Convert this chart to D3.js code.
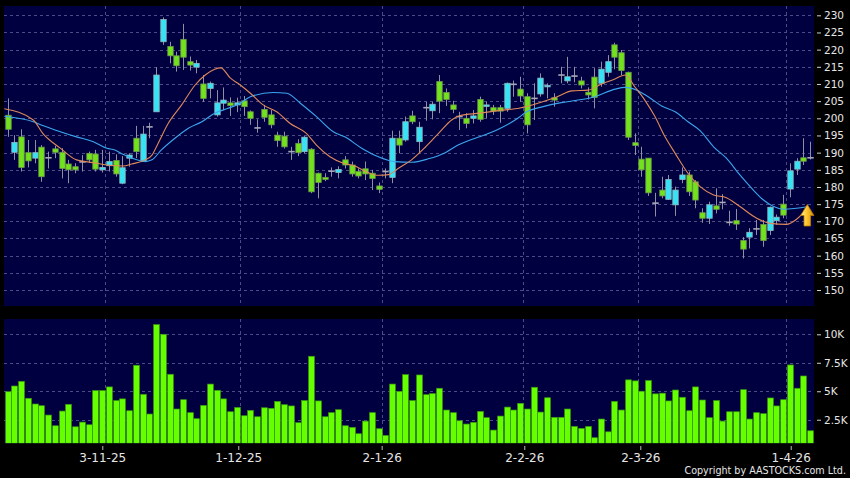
<!DOCTYPE html>
<html><head><meta charset="utf-8">
<script src="https://cdn.jsdelivr.net/npm/d3@7/dist/d3.min.js"></script>
<style>html,body{margin:0;padding:0;background:#000;}svg{display:block}</style>
</head><body>
<svg id="chart" width="850" height="478"></svg>
<script>
// ---------- DATA ----------
const opens = [200.9,190.1,194.6,190.0,188.4,191.6,188.5,191.1,190.1,186.7,185.9,187.3,189.8,189.6,185.0,186.2,187.7,181.1,188.4,194.2,
187.4,197.5,201.9,222.3,220.9,218.2,223.0,216.5,214.9,210.0,208.7,201.0,204.4,204.5,203.9,205.1,201.9,197.2,202.6,201.0,
195.1,194.8,190.3,192.7,190.3,191.0,184.0,182.8,184.6,184.2,187.9,186.4,184.5,185.3,184.0,180.3,184.5,182.8,194.2,193.7,
200.7,193.2,203.1,202.2,210.7,207.5,203.9,200.5,200.0,200.0,205.5,203.5,203.1,203.1,202.9,209.9,208.5,206.3,205.8,207.1,
209.2,206.0,212.6,210.9,212.3,210.9,207.6,212.0,210.2,213.4,221.4,219.1,213.4,192.9,188.1,188.4,175.3,179.1,176.4,174.8,
182.2,183.5,181.5,172.5,170.9,174.5,175.5,169.7,170.2,164.4,165.4,167.8,169.1,167.3,170.2,175.0,179.4,185.2,188.5,188.5];
const highs = [205.8,195.1,196.8,193.7,193.7,192.2,190.3,192.0,191.3,187.9,186.9,189.3,190.3,190.8,190.8,190.3,189.5,189.0,189.8,197.8,
197.8,198.7,214.9,229.4,222.3,219.4,227.5,218.0,217.0,212.6,210.7,208.2,209.0,206.1,206.0,206.5,202.3,199.7,203.9,202.4,
196.1,196.1,191.7,193.9,194.8,191.3,184.2,184.0,185.7,186.0,189.0,187.4,185.4,187.4,185.0,181.3,185.4,196.4,196.4,200.5,
202.2,199.0,204.8,204.8,212.6,208.7,205.1,201.9,201.5,202.4,206.3,204.8,203.9,203.9,210.4,211.0,212.1,207.3,210.2,213.1,
210.2,207.3,215.0,217.9,215.0,212.1,209.0,214.6,216.5,218.4,222.0,219.9,213.6,195.6,191.7,188.4,178.3,183.0,183.5,180.1,
185.7,184.5,182.0,173.8,175.7,179.6,177.9,173.1,173.6,165.4,168.0,170.4,170.4,174.3,172.0,177.7,186.9,188.4,194.2,193.2];
const lows = [194.6,187.9,184.5,185.7,186.9,181.5,185.4,188.4,182.5,181.1,184.0,184.5,187.1,184.5,184.2,184.5,183.0,180.8,185.9,188.4,
187.4,194.2,201.9,221.4,216.0,213.6,214.1,213.9,213.1,204.8,205.8,200.5,202.4,200.7,201.8,200.7,198.1,195.8,199.0,197.1,
191.7,191.2,187.9,189.0,189.8,178.2,176.7,181.7,183.0,182.5,185.4,183.0,182.5,182.0,179.1,178.2,182.5,181.1,189.8,193.2,
198.3,189.8,199.3,199.7,201.5,203.6,201.5,196.6,197.1,198.5,199.0,200.0,201.0,198.7,201.9,206.3,204.8,195.6,199.5,206.3,
205.8,203.4,210.2,210.2,210.5,208.7,205.5,202.9,209.2,212.1,214.3,212.6,193.7,189.3,183.0,177.4,171.4,176.7,176.2,171.6,
181.1,177.4,173.8,169.6,169.2,172.3,173.5,168.7,167.5,159.2,162.1,166.0,162.6,166.0,169.0,170.9,177.0,183.5,186.4,188.0];
const closes = [196.8,193.0,185.7,187.6,190.0,183.0,188.5,190.1,185.4,185.0,185.0,187.3,187.9,185.2,185.7,187.4,183.8,185.6,189.3,190.3,
195.4,197.5,212.6,228.8,218.2,215.3,217.8,215.5,216.0,205.8,210.2,204.5,205.3,203.7,204.5,203.4,200.0,197.2,200.3,198.1,
193.5,191.7,190.3,190.0,194.5,178.6,181.3,182.2,184.6,185.1,186.4,183.8,183.2,183.8,182.5,179.3,184.5,194.2,192.2,199.0,
199.0,197.4,203.1,204.1,205.0,205.5,202.6,200.5,198.5,200.7,199.7,203.9,202.1,202.1,210.2,209.9,206.5,198.1,205.8,211.7,
209.6,205.3,212.6,212.1,212.3,209.7,206.8,206.1,214.3,216.5,217.8,213.9,194.5,192.1,185.0,178.3,175.3,177.4,182.2,179.1,
183.5,178.6,176.2,170.9,174.8,173.5,175.5,169.7,169.2,161.9,166.8,167.8,164.4,174.1,171.2,171.8,184.7,187.5,187.5,188.5];
// volume in thousands of shares
const volumes = [4.96,5.46,5.87,4.38,3.88,3.73,2.91,1.97,3.26,3.85,1.88,2.29,2.06,5.06,5.06,5.38,4.18,4.33,3.29,7.28,
4.73,3.00,10.85,10.0,6.49,3.44,4.26,3.12,2.59,3.76,5.63,5.08,4.33,3.20,3.58,2.85,3.32,2.76,3.55,3.50,
4.11,3.82,3.71,2.24,4.18,8.07,4.15,2.76,3.12,3.38,1.97,1.83,1.27,2.38,3.12,1.71,1.12,5.63,4.99,6.46,
4.18,6.43,4.70,4.79,5.26,3.35,3.12,2.41,2.12,2.27,3.23,2.68,1.59,2.82,3.61,3.35,3.94,3.44,5.35,3.17,
4.43,2.71,2.71,3.44,1.91,1.74,1.91,0.92,2.56,1.44,4.11,3.35,6.00,5.91,5.00,5.94,4.77,4.83,4.15,5.11,
4.47,3.29,5.38,4.23,2.68,4.18,2.38,3.20,3.20,5.14,2.56,3.12,3.03,4.41,3.71,4.26,7.31,5.26,6.34,1.53];
// moving averages: [candle index, price]
const ma10 = [[-0.5,202.8],[3.8,199.5],[5.2,195.6],[7.8,191.3],[10.2,187.9],[12.7,187.1],[14.7,186.4],[17.1,186.1],[18.4,186.7],[20.4,187.9],
[21.4,189.3],[22.3,192.7],[23.8,198.5],[25.8,203.9],[27.8,209.7],[29.3,212.6],[30.7,214.3],[31.6,214.7],[33,211.8],[34.5,209.7],
[36,207.3],[37.9,203.9],[39.9,201.9],[41.9,198.5],[44.3,195.6],[45.8,192.2],[47.8,188.8],[49.8,186.9],[51.5,186.1],[53,184.6],
[55,183.4],[56.5,183.6],[57.9,185.4],[59.9,187.9],[61.9,191.5],[63.9,195.6],[65.9,199.6],[67.1,200.8],[70,201.5],[73,202.3],
[76,203.0],[79,204.6],[81.4,206.2],[83.7,208.0],[86.1,208.2],[88.1,210.0],[89.8,211.2],[91.6,212.6],[93,209.2],[94.5,205.3],
[96,200.5],[97.5,194.6],[99,189.8],[100.9,184.0],[102.7,180.1],[104.7,177.7],[106.6,176.9],[108.6,174.3],[111.1,170.9],[113.1,169.4],
[115.5,169.1],[117,170.6],[118.8,174.3]];
const ma20 = [[-0.5,200.6],[3.8,199.0],[5.2,197.9],[7.8,196.1],[10.2,194.6],[12.7,193.2],[14.7,191.3],[15.9,190.8],[17.1,189.5],[18.4,188.4],
[20.4,187.4],[21.4,187.9],[22.8,190.8],[24.8,194.2],[26.8,197.1],[28.8,199.0],[30.7,201.5],[32.7,202.9],[34.5,204.4],[36,206.3],
[39.4,207.5],[41.4,207.3],[43.4,204.4],[45.8,200.5],[48.3,196.1],[50,194.6],[52.5,191.3],[55,188.8],[57.4,187.4],[59.9,187.2],
[62.4,188.2],[64.9,190.0],[66.8,192.2],[68.6,193.7],[70,194.6],[73,197.0],[75.5,199.8],[77,201.9],[79.4,203.4],[81.9,204.5],
[83.9,205.1],[87.1,206.3],[90.1,208.5],[91.6,209.0],[93.3,208.2],[95,206.3],[97,203.6],[99,201.9],[100.9,199.0],[102.7,196.4],
[104.7,191.7],[106.6,188.4],[108.6,183.5],[110.6,179.1],[112.1,176.2],[113.6,174.3],[115.1,173.5],[118.8,174.3]];
const priceTicks = [150,155,160,165,170,175,180,185,190,195,200,205,210,215,220,225,230];
const volTicks = [2.5,5,7.5,10];
const volTickLabels = ["2.5K","5K","7.5K","10K"];
const dateTickIdx = [14.03,34.2,55.47,76.62,93.83,116.14];
const dateGridIdx = [14.5,34.5,55.5,76.5,93.5,115.5];
const dateTickLabels = ["3-11-25","1-12-25","2-1-26","2-2-26","2-3-26","1-4-26"];

// ---------- LAYOUT ----------
const svg = d3.select("#chart");
const P = {x0:4, x1:814, y0:6, y1:306};      // price panel
const V = {x0:4, x1:814, y0:319, y1:443.3};  // volume panel
const N = closes.length;
const xs = d3.scaleLinear().domain([0, N-1]).range([7.7, 810]);
const ys = d3.scaleLinear().domain([150, 230]).range([290, 15.3]);
const yv = d3.scaleLinear().domain([0, 10]).range([448.2, 334.3]);
const bw = 5.4;
const navy = "#000040", gridC = "#4b4b86";
const font = "DejaVu Sans, Verdana, sans-serif";

svg.append("rect").attr("width",850).attr("height",478).attr("fill","#000");
svg.append("rect").attr("x",P.x0).attr("y",P.y0).attr("width",P.x1-P.x0).attr("height",P.y1-P.y0).attr("fill",navy);
svg.append("rect").attr("x",V.x0).attr("y",V.y0).attr("width",V.x1-V.x0).attr("height",V.y1-V.y0).attr("fill",navy);

const defs = svg.append("defs");
defs.append("clipPath").attr("id","cp").append("rect").attr("x",P.x0).attr("y",P.y0).attr("width",P.x1-P.x0).attr("height",P.y1-P.y0);
defs.append("clipPath").attr("id","cv").append("rect").attr("x",V.x0).attr("y",V.y0).attr("width",V.x1-V.x0).attr("height",V.y1-V.y0);
const grad = defs.append("linearGradient").attr("id","arrowG").attr("x1","0").attr("x2","1").attr("y1","0").attr("y2","0");
grad.append("stop").attr("offset","0").attr("stop-color","#fff0a0");
grad.append("stop").attr("offset","0.45").attr("stop-color","#ffc830");
grad.append("stop").attr("offset","1").attr("stop-color","#d88a00");

// grid - price
const gp = svg.append("g").attr("clip-path","url(#cp)");
gp.selectAll("line.h").data(priceTicks).enter().append("line")
  .attr("x1",P.x0).attr("x2",P.x1).attr("y1",d=>Math.round(ys(d))+0.5).attr("y2",d=>Math.round(ys(d))+0.5)
  .attr("stroke",gridC).attr("stroke-dasharray","3,3");
gp.selectAll("line.v").data(dateGridIdx).enter().append("line")
  .attr("x1",d=>Math.round(xs(d))+0.5).attr("x2",d=>Math.round(xs(d))+0.5).attr("y1",P.y0).attr("y2",P.y1)
  .attr("stroke",gridC).attr("stroke-dasharray","3,3");
// grid - volume
const gv = svg.append("g").attr("clip-path","url(#cv)");
gv.selectAll("line.h").data(volTicks).enter().append("line")
  .attr("x1",V.x0).attr("x2",V.x1).attr("y1",d=>Math.round(yv(d))+0.5).attr("y2",d=>Math.round(yv(d))+0.5)
  .attr("stroke",gridC).attr("stroke-dasharray","3,3");
gv.selectAll("line.v").data(dateGridIdx).enter().append("line")
  .attr("x1",d=>Math.round(xs(d))+0.5).attr("x2",d=>Math.round(xs(d))+0.5).attr("y1",V.y0).attr("y2",V.y1)
  .attr("stroke",gridC).attr("stroke-dasharray","3,3");

// candles
const cg = svg.append("g").attr("clip-path","url(#cp)");
const idx = d3.range(N);
cg.selectAll("line.w").data(idx).enter().append("line")
  .attr("x1",i=>Math.round(xs(i))+0.5).attr("x2",i=>Math.round(xs(i))+0.5)
  .attr("y1",i=>ys(highs[i])).attr("y2",i=>ys(lows[i]))
  .attr("stroke","#8f8f9f").attr("stroke-width",1);
idx.forEach(i=>{
  const o=opens[i], c=closes[i], cx=Math.round(xs(i))+0.5;
  if (o===c){
    cg.append("line").attr("x1",cx-bw/2-0.5).attr("x2",cx+bw/2+0.5).attr("y1",ys(o)).attr("y2",ys(o))
      .attr("stroke","#a8a8b8").attr("stroke-width",1.6);
  } else {
    const up = c>o;
    const top = ys(Math.max(o,c)), bot = ys(Math.min(o,c));
    cg.append("rect").attr("x",cx-bw/2).attr("y",top).attr("width",bw).attr("height",Math.max(1.5,bot-top))
      .attr("fill", up ? "#35e3f5" : "#72e21c")
      .attr("stroke", up ? "#8fb8c0" : "#6f9a4a").attr("stroke-width",0.8);
  }
});

// moving averages
const line = d3.line().x(d=>xs(d[0])).y(d=>ys(d[1])).curve(d3.curveMonotoneX);
cg.append("path").attr("d",line(ma20)).attr("fill","none").attr("stroke","#3aa6ee").attr("stroke-width",1.1);
cg.append("path").attr("d",line(ma10)).attr("fill","none").attr("stroke","#e0895a").attr("stroke-width",1.1);

// arrow marker at the end of the series
const ax = xs(N-1)-2.7, ay = ys(174.9);
svg.append("path")
  .attr("d",`M${ax},${ay} L${ax+6.6},${ay+11} L${ax+3.3},${ay+11} L${ax+3.3},${ay+21.5} L${ax-3.3},${ay+21.5} L${ax-3.3},${ay+11} L${ax-6.6},${ay+11} Z`)
  .attr("fill","url(#arrowG)").attr("stroke","#b87800").attr("stroke-width",0.8);

// volume bars
const vg = svg.append("g").attr("clip-path","url(#cv)");
vg.selectAll("rect").data(idx).enter().append("rect")
  .attr("x",i=>Math.round(xs(i))+0.5-2.85).attr("width",5.7)
  .attr("y",i=>yv(volumes[i])).attr("height",i=>V.y1-yv(volumes[i]))
  .attr("fill","#66ff00").attr("stroke","#3a9a10").attr("stroke-width",0.7);

// right axes
function styleAxis(g){
  g.select(".domain").remove();
  g.selectAll(".tick line").attr("stroke","#cfcfcf");
  g.selectAll(".tick text").attr("fill","#e6e6e6").attr("font-family",font).attr("font-size","10.5px");
}
svg.append("g").attr("transform","translate(817,0)")
  .call(d3.axisRight(ys).tickValues(priceTicks).tickSize(4).tickPadding(3).tickFormat(d3.format("d")))
  .call(styleAxis);
svg.append("g").attr("transform","translate(817,0)")
  .call(d3.axisRight(yv).tickValues(volTicks).tickSize(4).tickPadding(3).tickFormat((d,i)=>volTickLabels[i]))
  .call(styleAxis);
// date axis
const xa = svg.append("g").attr("transform","translate(0,446)")
  .call(d3.axisBottom(xs).tickValues(dateTickIdx).tickSize(4).tickPadding(3.5).tickFormat((d,i)=>dateTickLabels[i]));
xa.select(".domain").remove();
xa.selectAll(".tick line").attr("stroke","#bdbdbd");
xa.selectAll(".tick text").attr("fill","#e6e6e6").attr("font-family",font).attr("font-size","12px");

svg.append("text").attr("x",846).attr("y",474).attr("text-anchor","end")
  .attr("fill","#e6e6e6").attr("font-family",font).attr("font-size","9.6px")
  .text("Copyright by AASTOCKS.com Ltd.");
</script>
</body></html>
